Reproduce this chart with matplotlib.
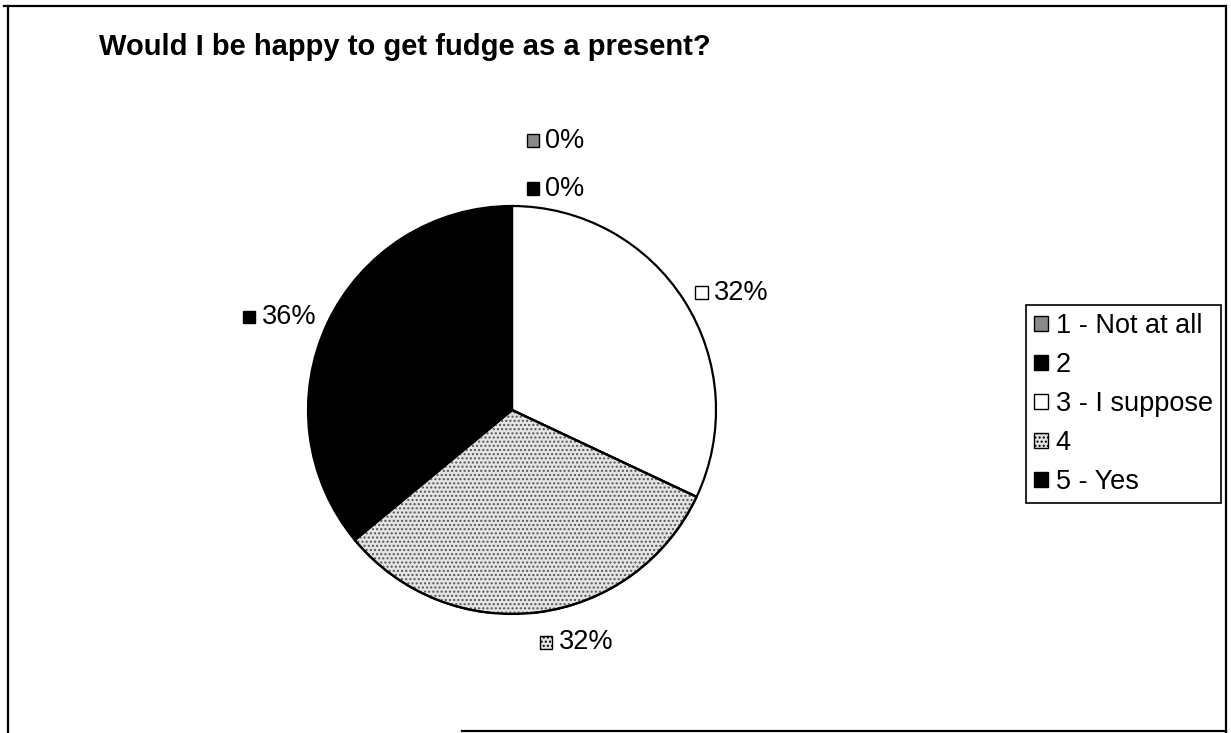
import numpy as np
import matplotlib
matplotlib.use("Agg")
import matplotlib.pyplot as plt
from matplotlib.patches import Wedge, Rectangle, Patch
from matplotlib.lines import Line2D
from matplotlib.offsetbox import AnnotationBbox, HPacker, DrawingArea, TextArea

plt.rcParams["font.family"] = ["Liberation Sans", "DejaVu Sans"]

title = "Would I be happy to get fudge as a present?"
categories = ["1 - Not at all", "2", "3 - I suppose", "4", "5 - Yes"]
shares = [0, 0, 32, 32, 36]

# fill style per category
fills = ["#8a8a8a", "black", "white", "#e4e4e4", "black"]
hatches = [None, None, None, "....", None]

W, H = 1231, 733
fig = plt.figure(figsize=(W / 100, H / 100), dpi=100)
fig.patch.set_facecolor("white")

# pie axes: centre (512, 410) px, radius 204 px
cx, cy, r = 512, 410, 204
ax = fig.add_axes([(cx - r) / W, (H - cy - r) / H, 2 * r / W, 2 * r / H])
wedges, _ = ax.pie(shares, colors=fills, startangle=90, counterclock=False,
                   radius=1, frame=False,
                   wedgeprops=dict(edgecolor="black", linewidth=1.6))
ax.set_xlim(-1, 1)
ax.set_ylim(-1, 1)
ax.set_aspect("equal")
ax.axis("off")

# speckled texture on hatched slices (grey dots, black outline kept)
for w, h in zip(wedges, hatches):
    if h and w.theta2 > w.theta1:
        ax.add_patch(Wedge(w.center, w.r, w.theta1, w.theta2, facecolor="none",
                           edgecolor="#555555", linewidth=0, hatch=h, zorder=w.get_zorder() + 0.1))
        ax.add_patch(Wedge(w.center, w.r, w.theta1, w.theta2, facecolor="none",
                           edgecolor="black", linewidth=1.6, zorder=w.get_zorder() + 0.2))

# data labels: small key square + percentage
total = sum(shares)
mids = [(w.theta1 + w.theta2) / 2 for w in wedges]
label_font = dict(fontsize=19.5, color="black")
for i, (v, m) in enumerate(zip(shares, mids)):
    # labels sharing the same angle are stacked outward, earlier ones further out
    later_same = sum(1 for j in range(i + 1, len(mids)) if abs(mids[j] - m) < 1e-6)
    ang = np.radians(m)
    sx, sy = np.cos(ang), np.sin(ang)
    x, y = 1.06 * sx, 1.06 * sy
    ha = 0.0 if sx >= -1e-6 else 1.0
    va = 0.5 - (0.2 if sy > 0 else 0.7) * sy * abs(sy)
    dx = 10 if abs(sx) < 0.1 else 0
    da = DrawingArea(10, 10, 0, 0)
    da.add_artist(Rectangle((0.5, 0.5), 9, 9, facecolor=fills[i], edgecolor="black",
                            linewidth=1.0, hatch=hatches[i]))
    txt = TextArea(f"{round(v / total * 100)}%", textprops=label_font)
    box = HPacker(children=[da, txt], align="center", pad=0, sep=4)
    ab = AnnotationBbox(box, (x, y), xycoords="data", xybox=(dx, later_same * 34.5),
                        boxcoords="offset points", box_alignment=(ha, va),
                        frameon=False, pad=0, annotation_clip=False)
    ax.add_artist(ab)

# legend
handles = [Patch(facecolor=f, edgecolor="black", linewidth=1.0, hatch=h)
           for f, h in zip(fills, hatches)]
leg = fig.legend(handles, categories, loc="center left",
                 bbox_to_anchor=(1026 / W, 1 - 404 / H), prop=dict(size=19.5),
                 frameon=True, fancybox=False, edgecolor="black", framealpha=1,
                 handlelength=0.5, handleheight=0.5, handletextpad=0.3,
                 labelspacing=0.48, borderpad=0.3, borderaxespad=0)
leg.get_frame().set_linewidth(1.2)

# title
fig.text(405 / W, 1 - 47 / H, title, ha="center", va="center",
         fontsize=21, fontweight="bold")

# chart area border
border = dict(color="black", linewidth=1.6, transform=fig.transFigure)
fig.add_artist(Line2D([4 / W, 1226 / W], [1 - 6 / H, 1 - 6 / H], **border))
fig.add_artist(Line2D([8 / W, 8 / W], [1 - 6 / H, 0], **border))
fig.add_artist(Line2D([1226 / W, 1226 / W], [1 - 6 / H, 0], **border))
fig.add_artist(Line2D([462 / W, 1226 / W], [1 - 731 / H, 1 - 731 / H], **border))

fig.savefig("out.png", dpi=100, facecolor="white")
